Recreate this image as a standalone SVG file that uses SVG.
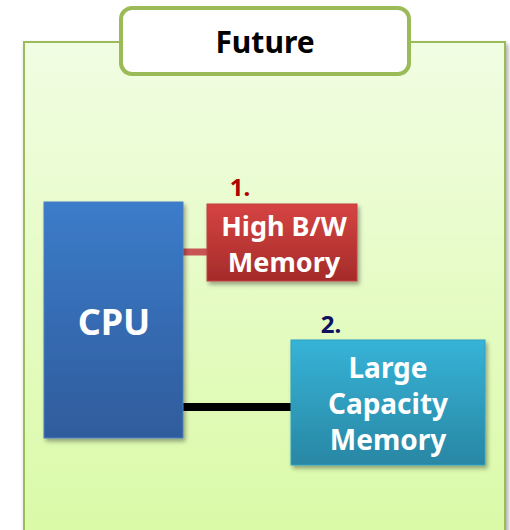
<svg xmlns="http://www.w3.org/2000/svg" width="510" height="530" viewBox="0 0 510 530">
<style>
text{font-family:"Noto Sans","Open Sans","DejaVu Sans",sans-serif;font-weight:bold;text-anchor:middle}
.w{fill:#ffffff}
.box{filter:url(#sh)}
</style>
<defs>
<linearGradient id="bg" x1="0" y1="0" x2="0" y2="1"><stop offset="0" stop-color="#f1fde3"/><stop offset="1" stop-color="#dafaa6"/></linearGradient>
<linearGradient id="blue" x1="0" y1="0" x2="0" y2="1"><stop offset="0" stop-color="#3c7cca"/><stop offset="1" stop-color="#2f5c9c"/></linearGradient>
<linearGradient id="red" x1="0" y1="0" x2="0" y2="1"><stop offset="0" stop-color="#d54442"/><stop offset="1" stop-color="#a52b2a"/></linearGradient>
<linearGradient id="cyan" x1="0" y1="0" x2="0" y2="1"><stop offset="0" stop-color="#36b3d7"/><stop offset="1" stop-color="#2987a4"/></linearGradient>
<filter id="sh" x="-10%" y="-10%" width="130%" height="130%"><feDropShadow dx="2" dy="3" stdDeviation="2" flood-color="#000" flood-opacity="0.35"/></filter>
</defs>
<g id="panel">
<rect x="24" y="42" width="481" height="500" fill="url(#bg)" stroke="#9bbb59" stroke-width="2" filter="url(#sh)"/>
</g>
<g id="title">
<rect x="121" y="8" width="288" height="66" rx="11" fill="#ffffff" stroke="#9bbb59" stroke-width="4"/>
<text x="265" y="53" font-size="30" fill="#000">Future</text>
</g>
<g id="connectors">
<line x1="183" y1="252" x2="208" y2="252" stroke="#c95454" stroke-width="7"/>
<line x1="183" y1="407" x2="292" y2="407" stroke="#000" stroke-width="8"/>
</g>
<g id="cpu">
<rect class="box" x="44" y="202" width="139" height="236" fill="url(#blue)" stroke="#4a7fc0" stroke-width="1"/>
<text class="w" x="114" y="335" font-size="36">CPU</text>
</g>
<g id="hbm">
<text x="240" y="196" font-size="24" fill="#b00000">1.</text>
<rect class="box" x="207" y="204" width="150" height="77" fill="url(#red)" stroke="#c04040" stroke-width="1"/>
<text class="w" x="284" y="236" font-size="27">High B/W</text>
<text class="w" x="284" y="272" font-size="27">Memory</text>
</g>
<g id="lcm">
<text x="331" y="333" font-size="24" fill="#101060">2.</text>
<rect class="box" x="291" y="340" width="194" height="125" fill="url(#cyan)" stroke="#2f9fc4" stroke-width="1"/>
<text class="w" x="388" y="378" font-size="28">Large</text>
<text class="w" x="388" y="414" font-size="28">Capacity</text>
<text class="w" x="388" y="450" font-size="28">Memory</text>
</g>
</svg>
